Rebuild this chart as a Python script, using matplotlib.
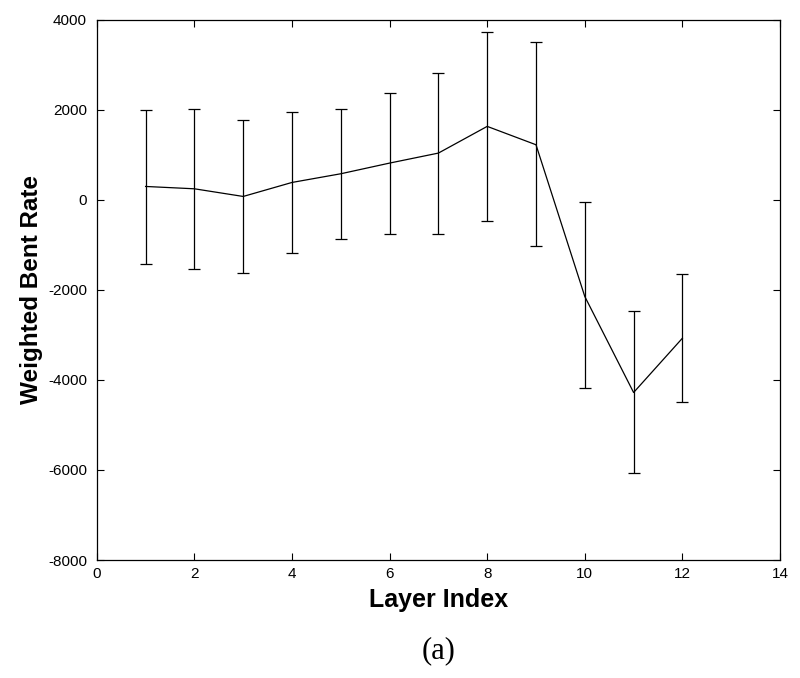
import matplotlib
matplotlib.use("Agg")
import matplotlib.pyplot as plt

plt.rcParams['axes.unicode_minus'] = False

# layer index and weighted bent rate (mean with error bar ends)
layers = [1, 2, 3, 4, 5, 6, 7, 8, 9, 10, 11, 12]
mean_rate = [296, 244, 74, 385, 578, 815, 1037, 1630, 1222, -2148, -4280, -3074]
upper_rate = [2000, 2022, 1778, 1941, 2022, 2370, 2815, 3719, 3496, -52, -2467, -1652]
lower_rate = [-1430, -1533, -1630, -1185, -874, -770, -770, -467, -1022, -4170, -6060, -4496]

xticks = [0, 2, 4, 6, 8, 10, 12, 14]
yticks = [-8000, -6000, -4000, -2000, 0, 2000, 4000]

err_low = [m - l for m, l in zip(mean_rate, lower_rate)]
err_high = [u - m for m, u in zip(mean_rate, upper_rate)]

fig = plt.figure(figsize=(8, 6.78), dpi=100)
ax = fig.add_axes([0.121, 0.174, 0.854, 0.797])

ax.errorbar(layers, mean_rate, yerr=[err_low, err_high], color="black",
            linewidth=0.9, elinewidth=0.9, capsize=4, capthick=0.9)

ax.set_xlim(0, 14)
ax.set_ylim(-8000, 4000)
ax.set_xticks(xticks)
ax.set_yticks(yticks)
ax.tick_params(direction="in", top=True, right=True, length=5, width=0.8,
               labelsize=11)
ax.tick_params(axis="y", pad=7)
ax.tick_params(axis="x", pad=5)
for lab in ax.get_xticklabels() + ax.get_yticklabels():
    lab.set_family(["Liberation Sans Narrow", "Liberation Sans"])
for s in ax.spines.values():
    s.set_linewidth(0.9)

ax.set_xlabel("Layer Index", fontsize=18, fontweight="bold", family="Liberation Sans", labelpad=5)
ax.set_ylabel("Weighted Bent Rate", fontsize=17.5, fontweight="bold", family="Liberation Sans", labelpad=4)

fig.text(0.5 * (0.121 + 0.975), 1 - 651 / 678, "(a)", ha="center", va="center",
         fontsize=22, family="Liberation Serif")

fig.savefig("out.png", dpi=100)
